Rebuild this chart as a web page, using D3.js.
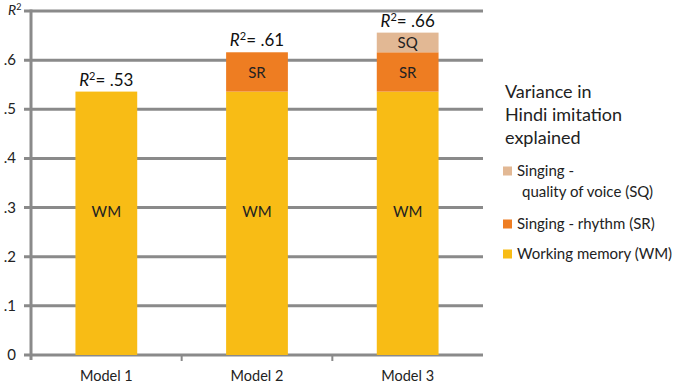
<!DOCTYPE html>
<html><head><meta charset="utf-8">
<script src="https://cdn.jsdelivr.net/npm/d3@7"></script>
<style>
body{margin:0;background:#fff;}
svg{font-family:Lato,"Open Sans",sans-serif;}
</style></head>
<body><svg id="c" width="680" height="385"></svg>
<script>
const models = ["Model 1","Model 2","Model 3"];
const wm = [0.536, 0.536, 0.536];
const sr = [0, 0.080, 0.080];
const sq = [0, 0, 0.040];
const r2Labels = [".53", ".61", ".66"];
const yTicks = [0, 0.1, 0.2, 0.3, 0.4, 0.5, 0.6, 0.7];
const yTickLabels = ["0", ".1", ".2", ".3", ".4", ".5", ".6", ""];
const segKeys = ["WM","SR","SQ"];
const segColors = {WM:"#F8BC15", SR:"#EE7D22", SQ:"#E2B894"};
const legendItems = [
  {key:"SQ", lines:["Singing -","quality of voice (SQ)"]},
  {key:"SR", lines:["Singing - rhythm (SR)"]},
  {key:"WM", lines:["Working memory (WM)"]}
];
const legendTitle = ["Variance in","Hindi imitation","explained"];

const svg = d3.select("#c");
const x = d3.scaleBand().domain(models).range([31, 483]).paddingInner(0.59).paddingOuter(0.295);
const y = d3.scaleLinear().domain([0, 0.7]).range([355, 11]);
const grid = "#8a8a8a";

svg.append("g").selectAll("line").data(yTicks).join("line")
  .attr("x1", 24).attr("x2", 483)
  .attr("y1", d => y(d)).attr("y2", d => y(d))
  .attr("stroke", grid).attr("stroke-width", 3);
svg.append("line").attr("x1", 31).attr("x2", 31).attr("y1", y(0.7)-1.5).attr("y2", y(0)+5)
  .attr("stroke", grid).attr("stroke-width", 3);
const bounds = [x.step()*1 + 31, x.step()*2 + 31];
svg.append("g").selectAll("line").data(bounds).join("line")
  .attr("x1", d => d).attr("x2", d => d).attr("y1", y(0)).attr("y2", y(0)+6)
  .attr("stroke", grid).attr("stroke-width", 2);

svg.append("g").selectAll("text").data(yTicks.filter((d,i)=>yTickLabels[i]!=="")).join("text")
  .attr("x", 16).attr("y", d => y(d)+5).attr("text-anchor","end")
  .attr("font-size", 15).attr("fill","#222")
  .text(d => yTickLabels[yTicks.indexOf(d)]);
const r2 = svg.append("text").attr("x", 8).attr("y", 15).attr("font-size", 14).attr("fill","#222");
r2.append("tspan").attr("font-style","italic").text("R");
r2.append("tspan").attr("font-size", 9).attr("dy", -5).text("2");

const rows = models.map((m,i)=>({model:m, WM:wm[i], SR:sr[i], SQ:sq[i]}));
const stack = d3.stack().keys(segKeys)(rows);
const gb = svg.append("g");
stack.forEach(layer => {
  gb.selectAll(null).data(layer).join("rect")
    .attr("x", d => x(d.data.model))
    .attr("width", x.bandwidth())
    .attr("y", d => y(d[1]))
    .attr("height", d => y(d[0]) - y(d[1]))
    .attr("fill", segColors[layer.key]);
  gb.selectAll(null).data(layer.filter(d => d[1]-d[0] > 0)).join("text")
    .attr("x", d => x(d.data.model) + x.bandwidth()/2)
    .attr("y", d => layer.key==="WM" ? y(0.29)+5 : (y(d[0])+y(d[1]))/2 + 6)
    .attr("text-anchor","middle").attr("font-size", 15).attr("fill","#222")
    .text(layer.key);
});

rows.forEach((r,i) => {
  const top = r.WM + r.SR + r.SQ;
  const t = svg.append("text").attr("x", x(r.model)+x.bandwidth()/2).attr("y", y(top)-6)
    .attr("text-anchor","middle").attr("font-size", 17).attr("fill","#111");
  t.append("tspan").attr("font-style","italic").text("R");
  t.append("tspan").attr("font-size", 11).attr("dy", -6).text("2");
  t.append("tspan").attr("dy", 6).text("= " + r2Labels[i]);
});

svg.append("g").selectAll("text").data(models).join("text")
  .attr("x", d => x(d) + x.bandwidth()/2).attr("y", 381)
  .attr("text-anchor","middle").attr("font-size", 14.5).attr("fill","#222")
  .text(d => d);

svg.append("g").selectAll("text").data(legendTitle).join("text")
  .attr("x", 505).attr("y", (d,i) => 98 + i*23)
  .attr("font-size", 18).attr("fill","#222").text(d => d);
const legY = [171, 224, 254];
legendItems.forEach((it, i) => {
  svg.append("rect").attr("x", 503).attr("y", legY[i]-4.5).attr("width", 9).attr("height", 9)
    .attr("fill", segColors[it.key]);
  it.lines.forEach((ln, j) => {
    svg.append("text").attr("x", j === 0 ? 517 : 522).attr("y", legY[i] + 5 + j*21)
      .attr("font-size", 15).attr("fill","#222").text(ln);
  });
});
</script></body></html>
